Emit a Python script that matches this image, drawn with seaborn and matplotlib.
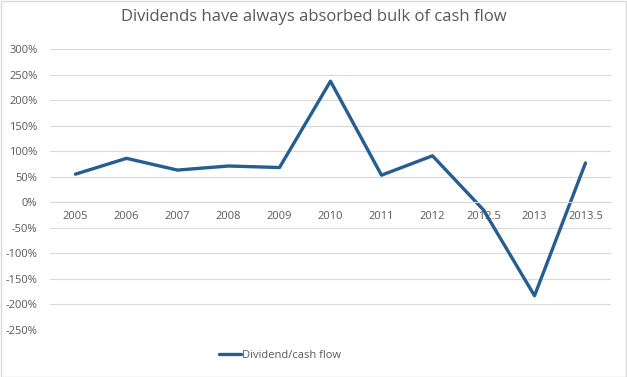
import pandas as pd
import numpy as np
import matplotlib
matplotlib.use("Agg")
import matplotlib.pyplot as plt
import seaborn as sns
from matplotlib.ticker import FuncFormatter

periods = ["2005", "2006", "2007", "2008", "2009", "2010", "2011", "2012",
           "2012.5", "2013", "2013.5"]
ratio = [55, 86, 63, 71, 68, 237, 53, 91, -15, -183, 77]
yticks = [-250, -200, -150, -100, -50, 0, 50, 100, 150, 200, 250, 300]

df = pd.DataFrame({"period": periods, "ratio": ratio, "series": "Dividend/cash flow"})

sns.set_style("white")
plt.rcParams["font.family"] = ["Open Sans", "DejaVu Sans"]

text_color = "#595959"
grid_color = "#d9d9d9"
line_color = "#255e91"

fig = plt.figure(figsize=(6.27, 3.77), dpi=100)
ax = fig.add_axes([0.0797, 0.1247, 0.8948, 0.7453])

x = np.arange(len(periods))
df["x"] = x
sns.lineplot(data=df, x="x", y="ratio", hue="series", palette=[line_color],
             linewidth=2.4, sort=False, ax=ax)

ax.set_xlim(-0.5, len(periods) - 0.5)
ax.set_ylim(-250, 300)
ax.set_yticks(yticks)
ax.yaxis.set_major_formatter(FuncFormatter(lambda v, p: f"{int(v)}%"))
ax.set_xticks(x)
ax.set_xticklabels(periods)
ax.set_xlabel("")
ax.set_ylabel("")

for v in yticks:
    ax.axhline(v, color=grid_color, linewidth=0.8, zorder=0)

for s in ["top", "right", "left"]:
    ax.spines[s].set_visible(False)
ax.spines["bottom"].set_position(("data", 0))
ax.spines["bottom"].set_color(grid_color)
ax.spines["bottom"].set_linewidth(0.8)
ax.tick_params(axis="both", length=0, colors=text_color, labelsize=8)
ax.tick_params(axis="x", pad=6)
ax.tick_params(axis="y", pad=9)

leg = ax.legend(loc="center left", bbox_to_anchor=(0.333, 0.058),
                bbox_transform=fig.transFigure, frameon=False,
                fontsize=8, handlelength=2.0, handletextpad=0.1)
for t in leg.get_texts():
    t.set_color(text_color)

fig.suptitle("Dividends have always absorbed bulk of cash flow", y=0.975,
             fontsize=12, color=text_color)

fig.patches.append(plt.Rectangle((0.001, 0.001), 0.997, 0.997, transform=fig.transFigure,
                                 fill=False, edgecolor="#d9d9d9", linewidth=1))

fig.savefig("out.png", dpi=100)
